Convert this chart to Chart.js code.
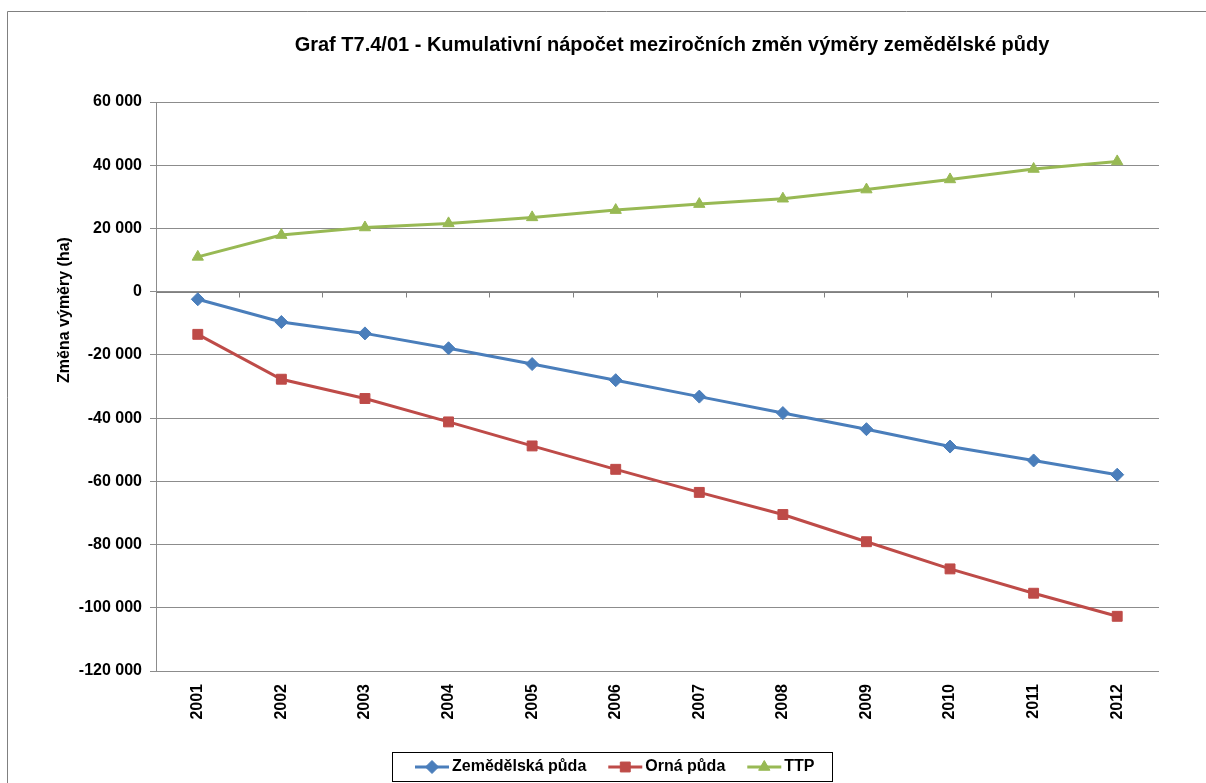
<!DOCTYPE html>
<html>
<head>
<meta charset="utf-8">
<script src="https://cdn.jsdelivr.net/npm/chart.js@4/dist/chart.umd.min.js"></script>
<style>
html,body{margin:0;padding:0;background:#fff;}
#wrap{width:1206px;height:783px;position:relative;}
</style>
</head>
<body>
<div id="wrap"><canvas id="c" width="1206" height="783"></canvas></div>
<script>
const years = ['2001','2002','2003','2004','2005','2006','2007','2008','2009','2010','2011','2012'];
const zemedelskaPuda = [-2400, -9600, -13200, -17900, -22900, -28000, -33200, -38400, -43500, -49000, -53400, -57900];
const ornaPuda = [-13500, -27700, -33800, -41200, -48800, -56200, -63500, -70500, -79100, -87700, -95400, -102700];
const ttp = [11000, 17900, 20300, 21600, 23500, 25800, 27700, 29400, 32300, 35500, 38800, 41200];
const seriesNames = ['Zemědělská půda', 'Orná půda', 'TTP'];
const chartTitle = 'Graf T7.4/01 - Kumulativní nápočet meziročních změn výměry zemědělské půdy';
const yAxisTitle = 'Změna výměry (ha)';
const yMin = -120000, yMax = 60000, yStep = 20000;

const FONT = '"Liberation Sans", Arial, sans-serif';
const fmt = v => {
  const s = Math.abs(v).toString().replace(/\B(?=(\d{3})+(?!\d))/g, ' ');
  return (v < 0 ? '-' : '') + s;
};

const deco = {
  id: 'deco',
  beforeDraw(chart) {
    const ctx = chart.ctx;
    ctx.save();
    ctx.fillStyle = '#fff';
    ctx.fillRect(0, 0, chart.width, chart.height);
    ctx.strokeStyle = '#808080';
    ctx.lineWidth = 1;
    ctx.beginPath();
    ctx.moveTo(7.5, chart.height);
    ctx.lineTo(7.5, 11.5);
    ctx.lineTo(chart.width, 11.5);
    ctx.stroke();
    ctx.fillStyle = '#000';
    ctx.font = 'bold 20px ' + FONT;
    ctx.textAlign = 'center';
    ctx.textBaseline = 'middle';
    ctx.fillText(chartTitle, 672, 45);
    ctx.translate(65, 310);
    ctx.rotate(-Math.PI / 2);
    ctx.font = 'bold 16px ' + FONT;
    ctx.fillText(yAxisTitle, 0, 0);
    ctx.restore();
  },
  beforeDatasetsDraw(chart) {
    const {ctx, chartArea: {left, right}, scales: {x, y}} = chart;
    const y0 = Math.round(y.getPixelForValue(0)) + 0.5;
    ctx.save();
    ctx.strokeStyle = '#808080';
    ctx.lineWidth = 1;
    ctx.beginPath();
    ctx.moveTo(left, y0);
    ctx.lineTo(right, y0);
    const n = x.ticks.length;
    const w = (right - left) / n;
    for (let i = 1; i <= n; i++) {
      const xx = Math.round(left + i * w) - 0.5;
      ctx.moveTo(xx, y0);
      ctx.lineTo(xx, y0 + 5);
    }
    ctx.stroke();
    ctx.restore();
  },
  afterDraw(chart) {
    const ctx = chart.ctx;
    const ds = chart.data.datasets;
    ctx.save();
    ctx.font = 'bold 16px ' + FONT;
    const lineLen = 34, gapText = 3, gapItem = 22;
    const widths = ds.map(d => lineLen + gapText + ctx.measureText(d.label).width);
    const total = widths.reduce((a, b) => a + b, 0) + gapItem * (ds.length - 1);
    const padL = 23, padR = 17;
    const boxW = total + padL + padR;
    const boxCx = 611.5;
    const boxL = Math.round(boxCx - boxW / 2);
    const boxT = 752, boxH = 29;
    ctx.strokeStyle = '#000';
    ctx.lineWidth = 1;
    ctx.strokeRect(boxL + 0.5, boxT + 0.5, Math.round(boxW), boxH);
    let xx = boxL + padL;
    const cy = boxT + boxH / 2 + 0.5;
    ds.forEach((d, i) => {
      ctx.strokeStyle = d.borderColor;
      ctx.lineWidth = 3;
      ctx.beginPath();
      ctx.moveTo(xx, cy);
      ctx.lineTo(xx + lineLen, cy);
      ctx.stroke();
      ctx.fillStyle = d.backgroundColor;
      ctx.strokeStyle = d.borderColor;
      ctx.lineWidth = 1;
      Chart.helpers.drawPoint(ctx, {pointStyle: d.pointStyle, radius: d.pointRadius, rotation: 0, borderWidth: 1}, xx + lineLen / 2, cy);
      ctx.fillStyle = '#000';
      ctx.textAlign = 'left';
      ctx.textBaseline = 'middle';
      ctx.fillText(d.label, xx + lineLen + gapText, cy);
      xx += widths[i] + gapItem;
    });
    ctx.restore();
  }
};

const mk = (label, data, color, style, r) => ({
  label, data,
  borderColor: color, backgroundColor: color,
  borderWidth: 3,
  pointStyle: style, pointRadius: r, pointHoverRadius: r,
  pointBorderWidth: 1, pointBorderColor: color, pointBackgroundColor: color,
  tension: 0, fill: false
});

new Chart(document.getElementById('c'), {
  type: 'line',
  data: {
    labels: years,
    datasets: [
      mk(seriesNames[0], zemedelskaPuda, '#4A7EBB', 'rectRot', 6.5),
      mk(seriesNames[1], ornaPuda, '#BE4B48', 'rect', 7),
      mk(seriesNames[2], ttp, '#98B954', 'triangle', 6.5)
    ]
  },
  options: {
    responsive: false,
    animation: false,
    devicePixelRatio: 1,
    layout: {padding: {top: 102, right: 47, left: 0, bottom: 0}},
    plugins: {legend: {display: false}, title: {display: false}, tooltip: {enabled: false}},
    scales: {
      x: {
        type: 'category',
        offset: true,
        grid: {display: false},
        border: {display: false},
        ticks: {minRotation: 90, maxRotation: 90, autoSkip: false, padding: 5, color: '#000', font: {family: FONT, size: 16, weight: 'bold'}},
        afterFit(s) { s.height = 112; }
      },
      y: {
        min: yMin, max: yMax,
        ticks: {stepSize: yStep, padding: 8, color: '#000', font: {family: FONT, size: 16, weight: 'bold'}, callback: v => fmt(v)},
        grid: {color: '#8c8c8c', tickLength: 6, tickColor: '#8c8c8c', lineWidth: 1},
        border: {display: true, color: '#8c8c8c'},
        afterFit(s) { s.width = 156; }
      }
    }
  },
  plugins: [deco]
});
</script>
</body>
</html>
